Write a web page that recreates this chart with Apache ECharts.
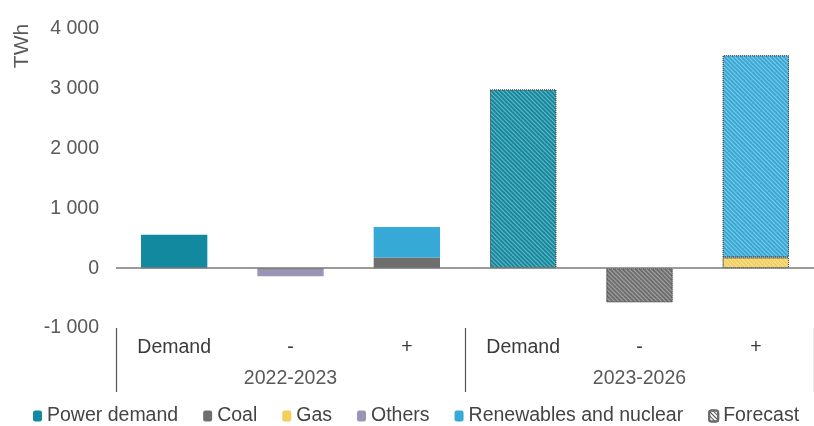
<!DOCTYPE html>
<html>
<head>
<meta charset="utf-8">
<script src="https://cdn.jsdelivr.net/npm/echarts@6/dist/echarts.min.js"></script>
<style>html,body{margin:0;padding:0;background:#fff}#c{width:814px;height:426px}</style>
</head>
<body>
<div id="c"></div>
<script>
var categories = ['Demand', '-', '+', 'Demand', '-', '+'];
var groupLabels = ['', '2022-2023', '', '', '2023-2026', ''];
var forecastFlags = [false, false, false, true, true, true];
var powerDemand = [560, null, null, 2990, null, null];
var coal = [null, -25, 180, null, -570, null];
var gas = [null, null, null, null, null, 180];
var others = [null, -110, null, null, null, null];
var renewables = [null, null, 510, null, null, 3380];
var yTicks = [-1000, 0, 1000, 2000, 3000, 4000];

var FONT = 'Liberation Sans, Arial, sans-serif';
var FS = 19.5;
var hatch = {
  symbol: 'rect',
  symbolSize: 1,
  color: 'rgba(255,255,255,0.38)',
  dashArrayX: [1, 0],
  dashArrayY: [1, 2],
  rotation: Math.PI / 4
};
function items(arr) {
  return arr.map(function (v, i) {
    if (v === null) return '-';
    if (forecastFlags[i]) {
      return {
        value: v,
        itemStyle: { decal: hatch, borderColor: '#4d4d4d', borderWidth: 1, borderType: 'dotted' }
      };
    }
    return v;
  });
}
function bar(name, arr, color) {
  return {
    name: name, type: 'bar', stack: 'total', barWidth: '57%',
    itemStyle: { color: color },
    data: items(arr)
  };
}
var chart = echarts.init(document.getElementById('c'), null, { renderer: 'canvas' });
var series = [
  bar('Power demand', powerDemand, '#12899f'),
  bar('Coal', coal, '#6e6e6e'),
  bar('Gas', gas, '#f2cf5b'),
  bar('Others', others, '#9c93b8'),
  bar('Renewables and nuclear', renewables, '#36a9d6'),
  {
    name: 'Forecast', type: 'bar', stack: 'total', data: [],
    itemStyle: { color: '#ffffff', borderColor: '#6b6b6b', borderWidth: 1,
      decal: { symbol: 'rect', symbolSize: 1, color: '#555', dashArrayX: [1, 0], dashArrayY: [1, 2], rotation: Math.PI / 4 } }
  }
];
series[0].markLine = {
  silent: true, symbol: 'none', label: { show: false },
  lineStyle: { color: '#7a7a7a', width: 1.5, type: 'solid' },
  data: [{ yAxis: 0 }]
};
chart.setOption({
  animation: false,
  textStyle: { fontFamily: FONT },
  grid: { left: 116, width: 702, top: 29, bottom: 98 },
  legend: {
    bottom: -5, left: 28, width: 786, itemWidth: 9, itemHeight: 11, itemGap: 25,
    textStyle: { fontSize: FS, color: '#444', fontFamily: FONT, padding: [0, 0, 0, 0] },
    data: ['Power demand', 'Coal', 'Gas', 'Others', 'Renewables and nuclear', 'Forecast']
  },
  xAxis: [
    {
      type: 'category', data: categories, position: 'bottom',
      axisLine: { show: false, onZero: false },
      axisTick: { show: true, length: 64, interval: function (i) { return i === 0 || i === 3; }, lineStyle: { color: '#555', width: 1.2 } },
      axisLabel: { margin: 10, fontSize: FS, color: '#3a3a3a', interval: 0 }
    },
    {
      type: 'category', data: groupLabels, position: 'bottom', gridIndex: 0,
      axisLine: { show: false, onZero: false }, axisTick: { show: false },
      axisLabel: { margin: 41, fontSize: FS, color: '#595959', interval: 0 }
    }
  ],
  yAxis: {
    type: 'value', min: -1000, max: 4000, interval: 1000,
    axisLine: { show: false }, axisTick: { show: false }, splitLine: { show: false },
    axisLabel: {
      margin: 17, fontSize: FS, color: '#595959',
      formatter: function (v) {
        var s = Math.abs(v).toString().replace(/\B(?=(\d{3})+(?!\d))/g, ' ');
        return (v < 0 ? '-' : '') + s;
      }
    }
  },
  graphic: [{
    type: 'text', x: 22, y: 46, rotation: Math.PI / 2,
    style: { text: 'TWh', font: '21px ' + FONT, fill: '#595959', align: 'center', verticalAlign: 'middle', textAlign: 'center', textVerticalAlign: 'middle' }
  }],
  series: series
});
</script>
</body>
</html>
